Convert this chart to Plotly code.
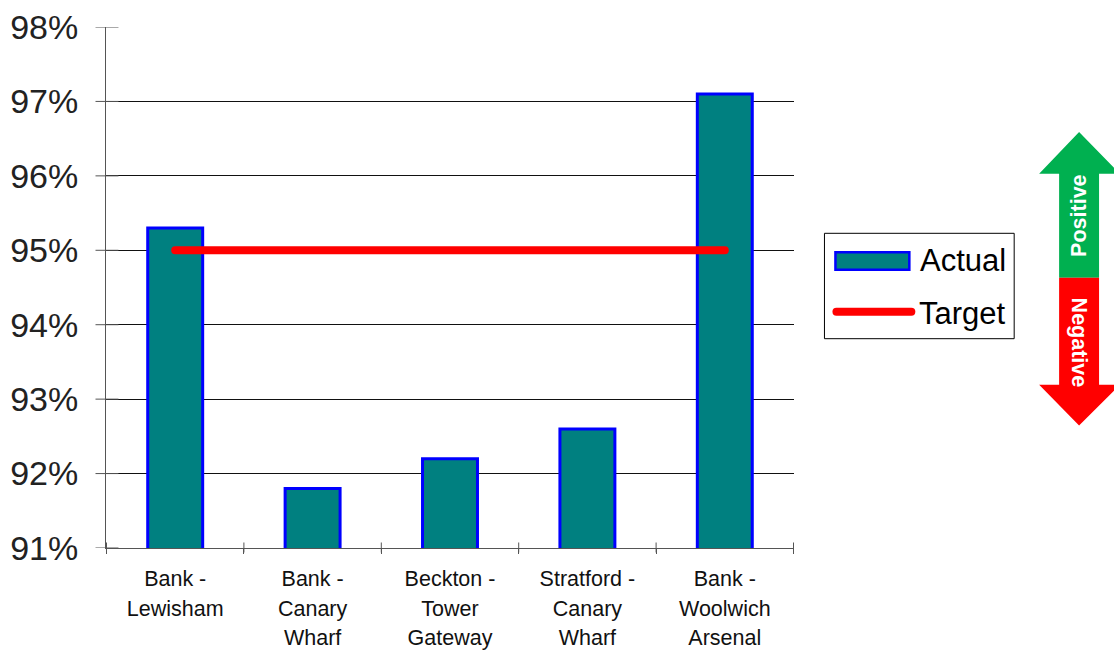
import plotly.graph_objects as go

categories = ["Bank -<br>Lewisham", "Bank -<br>Canary<br>Wharf", "Beckton -<br>Tower<br>Gateway",
              "Stratford -<br>Canary<br>Wharf", "Bank -<br>Woolwich<br>Arsenal"]
actual = [95.3, 91.8, 92.2, 92.6, 97.1]
target = [95, 95, 95, 95, 95]
y_ticks = [91, 92, 93, 94, 95, 96, 97, 98]
y_labels = ["91%", "92%", "93%", "94%", "95%", "96%", "97%", "98%"]

W, H = 1114, 652
L, R, T, B = 105.5, 794.5, 27, 548.5
FONT = "Liberation Sans, Arial, sans-serif"


def px(x):
    return (x - L) / (R - L)


def py(y):
    return (B - y) / (B - T)


def tick_text(s):
    return "<br>".join(f'<span style="font-size:21.5px">{p}</span>' for p in s.split("<br>"))


shapes = []
AX = "#555555"
# inner / outer half of value-axis ticks
for v in y_ticks:
    shapes.append(dict(type="line", xref="paper", yref="y", x0=px(95), x1=px(118), y0=v, y1=v,
                       line=dict(color=AX, width=1)))
# inner half of category ticks
for i in range(len(categories) + 1):
    shapes.append(dict(type="line", xref="x", yref="paper", x0=i - 0.5, x1=i - 0.5, y0=py(553), y1=py(543),
                       line=dict(color=AX, width=1)))


def poly(points, color):
    d = "M" + " L".join(f"{px(a):.5f},{py(b):.5f}" for a, b in points) + " Z"
    return dict(type="path", xref="paper", yref="paper", path=d, fillcolor=color, line=dict(width=0))


# Positive / Negative arrow
shapes.append(poly([(1080, 132), (1121, 174), (1100, 174), (1100, 278), (1060, 278), (1060, 174), (1040, 174)], "#00B050"))
shapes.append(poly([(1060, 278), (1100, 278), (1100, 385), (1121, 385), (1080, 426), (1040, 385), (1060, 385)], "#FF0000"))

# legend
shapes.append(dict(type="rect", xref="paper", yref="paper", x0=px(825), x1=px(1015), y0=py(339), y1=py(233.5),
                   fillcolor="white", line=dict(color="black", width=1)))
shapes.append(dict(type="rect", xref="paper", yref="paper", x0=px(836), x1=px(910), y0=py(270), y1=py(252.5),
                   fillcolor="#008080", line=dict(color="#0000FF", width=2.5)))
shapes.append(dict(type="line", xref="paper", yref="paper", x0=px(837), x1=px(912), y0=py(312), y1=py(312),
                   line=dict(color="#FF0000", width=8)))


def note(text, x, y, size, color="black", angle=0, bold=False):
    return dict(text=f"<b>{text}</b>" if bold else text, xref="paper", yref="paper", x=px(x), y=py(y), showarrow=False,
                font=dict(family=FONT, size=size, color=color), textangle=angle, xanchor="center", yanchor="middle")


annotations = [
    note("Actual", 964, 261, 31),
    note("Target", 963, 314, 31),
    note("Positive", 1080, 216, 21.5, "white", -90, True),
    note("Negative", 1080, 343, 21.5, "white", 90, True),
]

fig = go.Figure()
fig.add_bar(x=categories, y=actual, name="Actual", marker=dict(color="#008080", line=dict(color="#0000FF", width=3)),
            showlegend=False)
fig.add_scatter(x=categories, y=target, name="Target", mode="lines",
                line=dict(color="#FF0000", width=8), showlegend=False)
fig.update_layout(
    width=W, height=H, autosize=False, paper_bgcolor="white", plot_bgcolor="white",
    margin=dict(l=L, r=W - R, t=T, b=H - B, pad=0),
    bargap=0.6, shapes=shapes, annotations=annotations,
    font=dict(family=FONT, color="black"),
    xaxis=dict(type="category", tickmode="array", tickvals=categories, ticktext=[tick_text(c) for c in categories],
               tickson="boundaries", ticks="outside", ticklen=5, tickcolor=AX, showgrid=False, automargin=False,
               showline=True, linecolor=AX, linewidth=1, tickangle=0, ticklabelstandoff=9,
               tickfont=dict(family=FONT, size=23, color="#111111")),
    yaxis=dict(range=[91, 98], tickmode="array", tickvals=y_ticks, ticktext=y_labels, ticks="", showgrid=True,
               gridcolor="#111111", gridwidth=1, showline=True, linecolor=AX, linewidth=1, zeroline=False,
               automargin=False, ticklabelstandoff=20, tickfont=dict(family=FONT, size=34, color="#222222")),
)
post = """
document.body.style.margin='0';document.body.style.overflow='hidden';
document.querySelectorAll('.js-line').forEach(function(p){p.style.strokeLinecap='round';});
document.querySelectorAll('.shapelayer path').forEach(function(p){
  if(p.style.stroke==='rgb(255, 0, 0)'){p.style.strokeLinecap='round';}
});
"""
fig.write_html("out.html", post_script=post, config=dict(displayModeBar=False))
